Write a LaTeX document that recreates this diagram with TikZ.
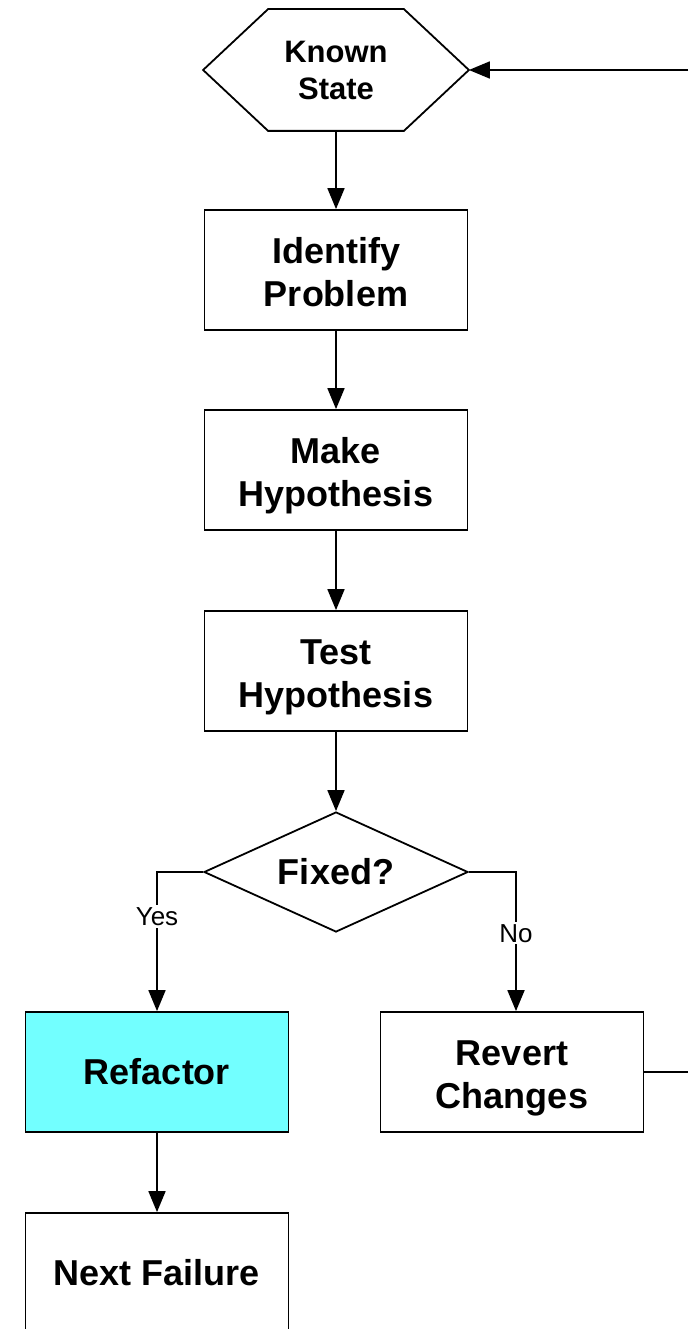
\documentclass[tikz,border=0pt]{standalone}
\usepackage{fontspec}
\setmainfont{Liberation Sans}
\usetikzlibrary{shapes.geometric,arrows.meta,calc}
\definecolor{refcyan}{RGB}{114,255,255}
\tikzset{
  every picture/.style={line width=1.8pt},
  stepbox/.style={draw, rectangle, minimum width=263pt, minimum height=120pt, inner sep=0pt, align=center, font=\bfseries\fontsize{36}{43}\selectfont},
  twoline/.style={text height=72pt, text depth=0pt},
  hexbox/.style={rectangle, minimum width=264pt, minimum height=120pt, inner sep=0pt, align=center, font=\bfseries\fontsize{31}{37}\selectfont},
  decision/.style={draw, diamond, aspect=2.2, minimum width=264pt, minimum height=120pt, inner sep=0pt, align=center, font=\bfseries\fontsize{36}{44}\selectfont},
  conn/.style={-{Triangle[length=21pt,width=17pt]}},
  lbl/.style={fill=white, inner sep=2pt, font=\fontsize{26}{30}\selectfont},
}
\begin{document}
\begin{tikzpicture}[x=1pt,y=-1pt]
\useasboundingbox (0,0) rectangle (688,1329);
\clip (0,0) rectangle (688,1329);
\fill[white] (0,0) rectangle (688,1329);
% nodes
\node[hexbox] (known) at (336,70) {Known\\State};
\draw (known.west) -- ($(known.north west)+(65,0)$) -- ($(known.north east)+(-65,0)$) -- (known.east)
  -- ($(known.south east)+(-65,0)$) -- ($(known.south west)+(65,0)$) -- cycle;
\node[stepbox, twoline] (identify) at (336,270) {Identify\\Problem};
\node[stepbox, twoline] (make) at (336,470) {Make\\Hypothesis};
\node[stepbox, twoline] (test) at (336,671) {Test\\Hypothesis};
\node[decision] (fixed) at (336,872) {Fixed?};
\node[stepbox, fill=refcyan] (refactor) at (157,1072) {Refactor};
\node[stepbox, twoline] (revert) at (512,1072) {Revert\\Changes};
\node[stepbox] (next) at (157,1273) {Next Failure};
\coordinate (loopin) at (688,70);
\coordinate (loopout) at (688,1072);
\coordinate (noin) at ($(revert.north)+(4,0)$);
% connectors
\draw[conn] (known.south) -- (identify.north);
\draw[conn] (identify.south) -- (make.north);
\draw[conn] (make.south) -- (test.north);
\draw[conn] (test.south) -- (fixed.north);
\draw[conn] (fixed.west) -| node[lbl, pos=0.66] {Yes} (refactor.north);
\draw[conn] (fixed.east) -| node[lbl, pos=0.72] {No} (noin);
\draw[conn] (refactor.south) -- (next.north);
\draw (revert.east) -- (loopout);
\draw[conn] (loopin) -- (known.east);
\end{tikzpicture}
\end{document}
